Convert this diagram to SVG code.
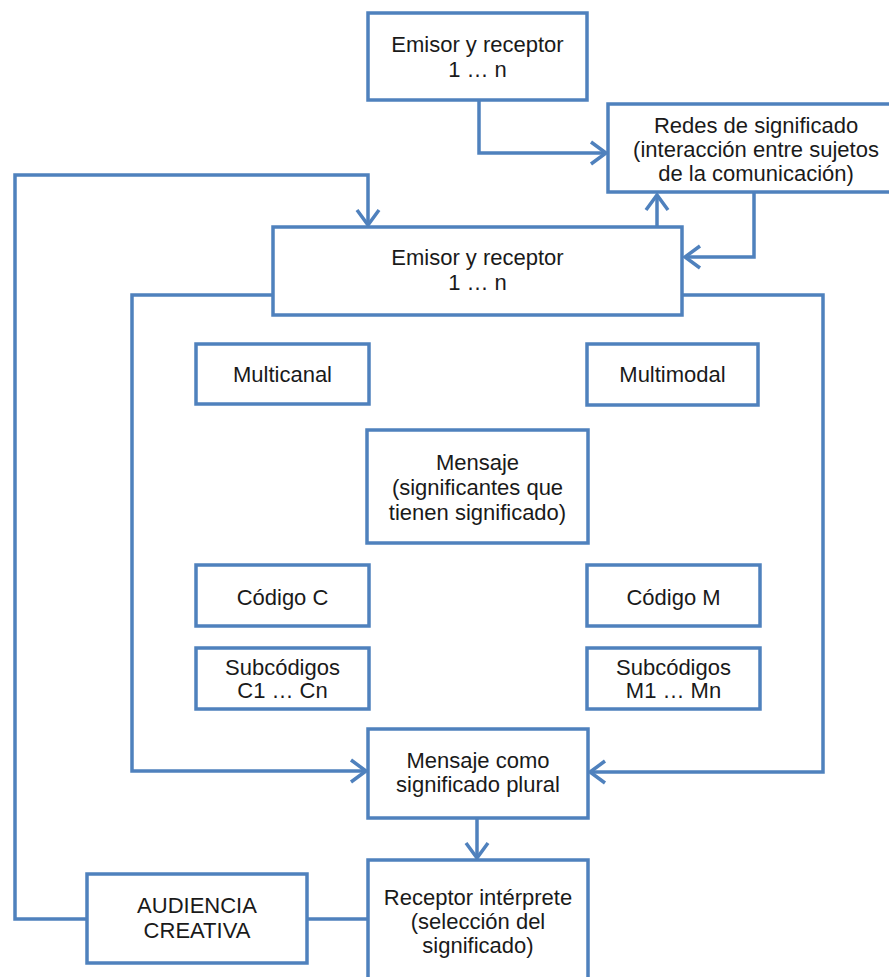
<svg xmlns="http://www.w3.org/2000/svg" width="889" height="977" viewBox="0 0 889 977">
<style>
.box{fill:#ffffff;stroke:#4f81bd;stroke-width:3.5}
.lbl{font-family:"Liberation Sans",Arial,sans-serif;font-size:22px;fill:#1a1a1a;text-anchor:middle}
.con{fill:none;stroke:#4f81bd;stroke-width:3.5;stroke-linejoin:miter}
.arr{fill:none;stroke:#4f81bd;stroke-width:3.5;marker-end:url(#chev)}
</style>
<defs>
<marker id="chev" markerUnits="userSpaceOnUse" viewBox="-20 -16 24 32" markerWidth="24" markerHeight="32" refX="0" refY="0" orient="auto">
<path d="M-15,-11 L0,0 L-15,11" fill="none" stroke="#4f81bd" stroke-width="3.5" stroke-linejoin="miter"/>
</marker>
</defs>
<rect width="889" height="977" fill="#ffffff"/>
<g id="connectors">
<path class="arr" d="M479,100 V153 H606"/>
<path class="arr" d="M657,227 V195"/>
<path class="arr" d="M754,192 V257 H685"/>
<path class="arr" d="M273,295 H132 V771 H366"/>
<path class="arr" d="M682,295 H823 V772 H590"/>
<path class="arr" d="M477,818 V858"/>
<path class="con" d="M368,919 H307"/>
<path class="arr" d="M87,919 H15 V175 H368 V225"/>
</g>
<g id="emisor-top">
<rect class="box" x="368" y="13" width="219" height="87"/>
<text class="lbl" x="477.5" y="52">Emisor y receptor</text>
<text class="lbl" x="477.5" y="77">1 … n</text>
</g>
<g id="redes">
<rect class="box" x="608" y="104" width="296" height="88"/>
<text class="lbl" x="756" y="133">Redes de significado</text>
<text class="lbl" x="756" y="157">(interacción entre sujetos</text>
<text class="lbl" x="756" y="181">de la comunicación)</text>
</g>
<g id="emisor-mid">
<rect class="box" x="273" y="227" width="409" height="88"/>
<text class="lbl" x="477.5" y="265">Emisor y receptor</text>
<text class="lbl" x="477.5" y="290">1 … n</text>
</g>
<g id="multicanal">
<rect class="box" x="196" y="344" width="173" height="60"/>
<text class="lbl" x="282.5" y="382">Multicanal</text>
</g>
<g id="multimodal">
<rect class="box" x="587" y="344" width="171" height="61"/>
<text class="lbl" x="672.5" y="382">Multimodal</text>
</g>
<g id="mensaje">
<rect class="box" x="367" y="430" width="221" height="113"/>
<text class="lbl" x="477.5" y="470">Mensaje</text>
<text class="lbl" x="477.5" y="495">(significantes que</text>
<text class="lbl" x="477.5" y="520">tienen significado)</text>
</g>
<g id="codigo-c">
<rect class="box" x="196" y="565" width="173" height="61"/>
<text class="lbl" x="282.5" y="605">Código C</text>
</g>
<g id="codigo-m">
<rect class="box" x="587" y="565" width="173" height="61"/>
<text class="lbl" x="673.5" y="605">Código M</text>
</g>
<g id="subcodigos-c">
<rect class="box" x="196" y="648" width="173" height="61"/>
<text class="lbl" x="282.5" y="675">Subcódigos</text>
<text class="lbl" x="282.5" y="698">C1 … Cn</text>
</g>
<g id="subcodigos-m">
<rect class="box" x="587" y="648" width="173" height="61"/>
<text class="lbl" x="673.5" y="675">Subcódigos</text>
<text class="lbl" x="673.5" y="698">M1 … Mn</text>
</g>
<g id="mensaje-plural">
<rect class="box" x="368" y="729" width="220" height="89"/>
<text class="lbl" x="478" y="768">Mensaje como</text>
<text class="lbl" x="478" y="792">significado plural</text>
</g>
<g id="receptor">
<rect class="box" x="368" y="860" width="220" height="130"/>
<text class="lbl" x="478" y="905">Receptor intérprete</text>
<text class="lbl" x="478" y="929">(selección del</text>
<text class="lbl" x="478" y="953">significado)</text>
</g>
<g id="audiencia">
<rect class="box" x="87" y="874" width="220" height="89"/>
<text class="lbl" x="197" y="913">AUDIENCIA</text>
<text class="lbl" x="197" y="938">CREATIVA</text>
</g>
</svg>
